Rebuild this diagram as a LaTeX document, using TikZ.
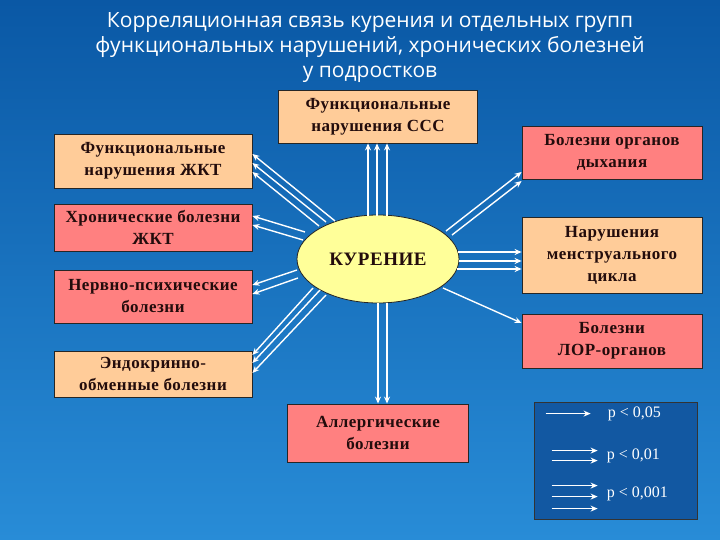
\documentclass[tikz,border=0pt]{standalone}
\usepackage{fontspec}
\setmainfont{Liberation Serif}
\newfontfamily\boxfont{Liberation Serif}[LetterSpace=3]
\newfontfamily\titlefont{Open Sans}
\usetikzlibrary{calc,arrows.meta,shapes.geometric}
\definecolor{bgtop}{RGB}{10,88,165}
\definecolor{bgbot}{RGB}{40,140,215}
\definecolor{peach}{RGB}{255,204,153}
\definecolor{pinkbox}{RGB}{255,128,128}
\definecolor{yell}{RGB}{255,255,153}
\definecolor{legfill}{RGB}{18,88,162}
\definecolor{boxtext}{RGB}{35,12,12}
\begin{document}
\begin{tikzpicture}[x=1pt,y=-1pt,
  box/.style={draw=black!85, line width=0.8pt, align=center, inner sep=2pt,
    font=\boxfont\fontsize{17}{22}\selectfont\bfseries, text=boxtext},
  pbox/.style={box, fill=peach},
  rbox/.style={box, fill=pinkbox},
  arr/.style={draw=white, line width=1.4pt, -{Stealth[length=7pt,width=6pt]}},
  legtext/.style={anchor=west, text=white, font=\fontsize{16}{18}\selectfont, inner sep=0pt}
]
\useasboundingbox (0,0) rectangle (720,540);
\shade[top color=bgtop, bottom color=bgbot] (0,0) rectangle (720,540);

% title
\node[text=white, align=center, font=\titlefont\fontsize{21}{25}\selectfont] (title) at (370,48)
  {Корреляционная связь курения и отдельных групп\\функциональных нарушений, хронических болезней\\у подростков};

% boxes
\node[pbox, minimum width=199pt, minimum height=53pt] (ccc) at (378,116.5) {Функциональные\\нарушения ССС};
\node[pbox, minimum width=198pt, minimum height=54pt] (fzkt) at (153,161) {Функциональные\\нарушения ЖКТ};
\node[rbox, minimum width=198pt, minimum height=47pt] (hzkt) at (153,227.5) {Хронические болезни\\ЖКТ};
\node[rbox, minimum width=198pt, minimum height=53pt] (nerv) at (153,296.5) {Нервно-психические\\болезни};
\node[pbox, minimum width=198pt, minimum height=46pt] (endo) at (153,374) {Эндокринно-\\обменные болезни};
\node[rbox, minimum width=180pt, minimum height=53pt] (resp) at (612,152.5) {Болезни органов\\дыхания};
\node[pbox, minimum width=180pt, minimum height=76pt] (mens) at (612,255) {Нарушения\\менструального\\цикла};
\node[rbox, minimum width=180pt, minimum height=54pt] (lor) at (612,341) {Болезни\\ЛОР-органов};
\node[rbox, minimum width=181pt, minimum height=58pt] (allg) at (378,433) {Аллергические\\болезни};
\node[ellipse, draw=black!85, line width=0.8pt, fill=yell, minimum width=162pt, minimum height=88pt,
  inner sep=0pt, font=\boxfont\fontsize{19}{20}\selectfont\bfseries, text=boxtext] (ell) at (378,259) {КУРЕНИЕ};

% arrows to ССС
\foreach \d in {-10,-1,9}
  \draw[arr] ($(ell.center)+(\d,-43)$) -- ($(ccc.south)+(\d,0)$);
% arrows to Аллергические
\foreach \d in {0,9}
  \draw[arr] ($(ell.center)+(\d,44)$) -- ($(allg.north)+(\d,0)$);
% to функциональные ЖКТ
\draw[arr] ($(ell.center)+(-43,-38)$) -- (fzkt.east |- 0,154);
\draw[arr] ($(ell.center)+(-52,-37)$) -- (fzkt.east |- 0,163);
\draw[arr] ($(ell.center)+(-59,-33)$) -- (fzkt.east |- 0,172);
% to хронические ЖКТ
\draw[arr] ($(ell.center)+(-73,-27)$) -- (hzkt.east |- 0,216);
\draw[arr] ($(ell.center)+(-75,-19)$) -- (hzkt.east |- 0,225);
% to нервно-психические
\draw[arr] ($(ell.center)+(-81,11)$) -- (nerv.east |- 0,285);
\draw[arr] ($(ell.center)+(-80,19)$) -- (nerv.east |- 0,294);
% to эндокринно-обменные
\draw[arr] ($(ell.center)+(-65,29)$) -- (endo.east |- 0,355);
\draw[arr] ($(ell.center)+(-58,31)$) -- (endo.east |- 0,363);
\draw[arr] ($(ell.center)+(-52,36)$) -- (endo.east |- 0,373);
% to дыхания
\draw[arr] ($(ell.center)+(68,-28)$) -- (resp.west |- 0,172);
\draw[arr] ($(ell.center)+(74,-24)$) -- (resp.west |- 0,181);
% to менструального
\draw[arr] ($(ell.center)+(80,-7)$) -- (mens.west |- 0,252);
\draw[arr] ($(ell.center)+(81,2)$) -- (mens.west |- 0,261);
\draw[arr] ($(ell.center)+(79,10)$) -- (mens.west |- 0,269);
% to ЛОР
\draw[arr] ($(ell.center)+(65,29)$) -- (lor.west |- 0,323);

% legend
\node[draw=black!80, line width=0.8pt, fill=legfill, minimum width=163pt, minimum height=117pt, inner sep=0pt] (leg) at (615.5,460.5) {};
\draw[arr] ($(leg.north west)+(12,12)$) -- ($(leg.north west)+(57,12)$);
\draw[arr] ($(leg.north west)+(18,49)$) -- ($(leg.north west)+(64,49)$);
\draw[arr] ($(leg.north west)+(18,59)$) -- ($(leg.north west)+(64,59)$);
\draw[arr] ($(leg.north west)+(18,84)$) -- ($(leg.north west)+(64,84)$);
\draw[arr] ($(leg.north west)+(18,95)$) -- ($(leg.north west)+(64,95)$);
\draw[arr] ($(leg.north west)+(18,107)$) -- ($(leg.north west)+(64,107)$);
\node[legtext] (l1) at ($(leg.north west)+(74,12)$) {p < 0,05};
\node[legtext] (l2) at ($(leg.north west)+(73,54)$) {p < 0,01};
\node[legtext] (l3) at ($(leg.north west)+(73,92)$) {p < 0,001};
\end{tikzpicture}
\end{document}
